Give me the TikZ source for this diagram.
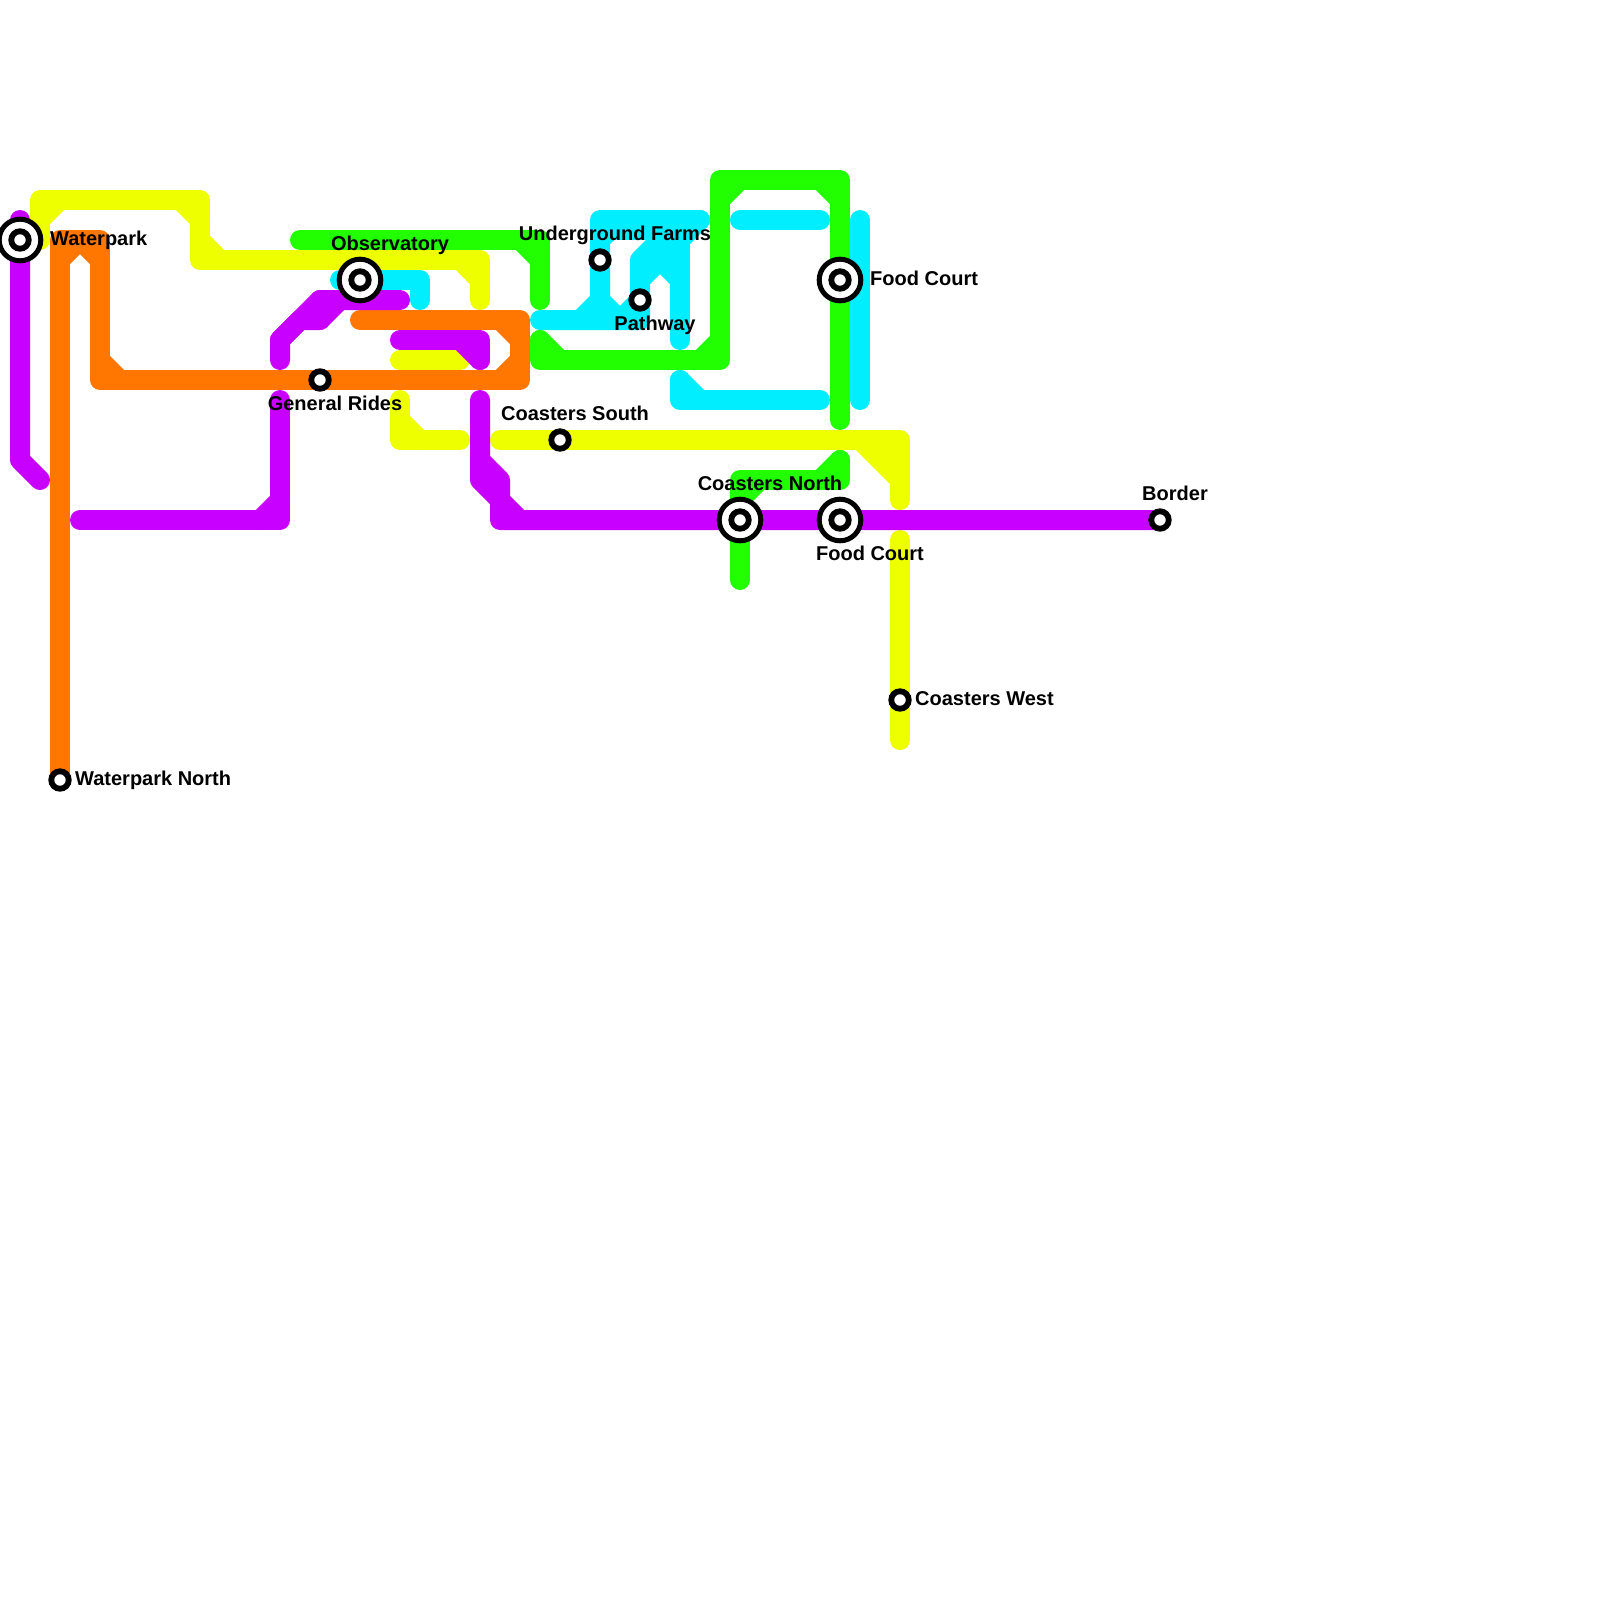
\documentclass[tikz,border=0pt]{standalone}
\usepackage{fontspec}
\setmainfont{Liberation Sans}[BoldFont={Liberation Sans Bold}]
\definecolor{lpurple}{HTML}{C800FF}
\definecolor{lorange}{HTML}{FF7700}
\definecolor{lgreen}{HTML}{22FF00}
\definecolor{lcyan}{HTML}{00EEFF}
\definecolor{lyellow}{HTML}{EEFF00}
\tikzset{
  route/.style={line width=20pt,line cap=round,line join=round},
  stnsmall/.style={circle,draw=black,fill=white,line width=5.8pt,minimum size=17.5pt,inner sep=0pt,outer sep=0pt},
  stnbig/.style={circle,draw=black,fill=white,line width=5pt,minimum size=41.6pt,inner sep=0pt,outer sep=0pt},
  lbl/.style={font=\bfseries\fontsize{20pt}{24pt}\selectfont,inner sep=0pt,text=black},
}
\begin{document}
\begin{tikzpicture}[x=1pt,y=-1pt]
\useasboundingbox (0,0) rectangle (1600,1600);
\fill[white] (0,0) rectangle (1600,1600);
% station positions
\coordinate (waterpark) at (20,240);
\coordinate (observatory) at (360,280);
\coordinate (foodN) at (840,280);
\coordinate (coastN) at (740,520);
\coordinate (foodS) at (840,520);
\coordinate (wpnorth) at (60,780);
\coordinate (genrides) at (320,380);
\coordinate (ufarms) at (600,260);
\coordinate (pathway) at (640,300);
\coordinate (coastS) at (560,440);
\coordinate (coastW) at (900,700);
\coordinate (border) at (1160,520);
% cyan
\draw[route,lcyan] (340,280) -- (420,280) -- (420,300);
\draw[route,lcyan] (540,320) -- (640,320) -- (640,260) -- (680,220);
\draw[route,lcyan] (580,320) -- (600,300) -- (600,220) -- (700,220);
\draw[route,lcyan] (600,300) -- (620,320) -- (640,300);
\draw[route,lcyan] (600,240) -- (620,220);
\draw[route,line cap=butt,lcyan] (600,230) -- (680,230);
\draw[route,lcyan] (640,280) -- (660,260) -- (680,280);
\draw[route,lcyan] (660,260) -- (660,220);
\draw[route,lcyan] (680,220) -- (680,340);
\draw[route,lcyan] (680,240) -- (700,220);
\draw[route,lcyan] (680,380) -- (680,400) -- (820,400);
\draw[route,lcyan] (680,380) -- (700,400);
\draw[route,lcyan] (740,220) -- (820,220);
\draw[route,lcyan] (860,220) -- (860,400);
% green
\draw[route,lgreen] (300,240) -- (540,240) -- (540,300);
\draw[route,lgreen] (520,240) -- (540,260);
\draw[route,lgreen] (540,340) -- (540,360) -- (720,360) -- (720,180) -- (840,180) -- (840,420);
\draw[route,lgreen] (540,340) -- (560,360);
\draw[route,lgreen] (700,360) -- (720,340);
\draw[route,lgreen] (720,200) -- (740,180);
\draw[route,lgreen] (820,180) -- (840,200);
\draw[route,lgreen] (740,580) -- (740,480) -- (840,480) -- (840,460);
\draw[route,lgreen] (820,480) -- (840,460);
\draw[route,lgreen] (740,500) -- (760,480);
% yellow
\draw[route,lyellow] (40,240) -- (40,200) -- (200,200) -- (200,260) -- (480,260) -- (480,300);
\draw[route,lyellow] (40,220) -- (60,200);
\draw[route,lyellow] (180,200) -- (200,220);
\draw[route,lyellow] (200,240) -- (220,260);
\draw[route,lyellow] (460,260) -- (480,280);
\draw[route,lyellow] (400,360) -- (460,360);
\draw[route,lyellow] (400,400) -- (400,440) -- (460,440);
\draw[route,lyellow] (400,420) -- (420,440);
\draw[route,lyellow] (500,440) -- (900,440) -- (900,500);
\draw[route,lyellow] (860,440) -- (900,480);
\draw[route,lyellow] (880,440) -- (900,460);
\draw[route,lyellow] (900,540) -- (coastW) -- (900,740);
% orange
\draw[route,lorange] (wpnorth) -- (60,240) -- (100,240) -- (100,380) -- (520,380) -- (520,320) -- (360,320);
\draw[route,lorange] (60,260) -- (80,240) -- (100,260);
\draw[route,lorange] (100,360) -- (120,380);
\draw[route,lorange] (500,380) -- (520,360);
\draw[route,lorange] (500,320) -- (520,340);
% purple
\draw[route,lpurple] (20,220) -- (20,460) -- (40,480);
\draw[route,lpurple] (80,520) -- (280,520) -- (280,400);
\draw[route,lpurple] (260,520) -- (280,500);
\draw[route,lpurple] (280,360) -- (280,340) -- (320,300) -- (400,300);
\draw[route,lpurple] (280,340) -- (300,320) -- (320,320) -- (340,300);
\draw[route,lpurple] (320,300) -- (320,320);
\draw[route,lpurple] (400,340) -- (480,340) -- (480,360);
\draw[route,lpurple] (460,340) -- (480,360);
\draw[route,lpurple] (480,400) -- (480,480) -- (500,500) -- (500,520) -- (border);
\draw[route,lpurple] (480,460) -- (500,480) -- (500,500) -- (520,520);
% stations
\node[stnbig] (sA) at (waterpark) {};
\node[stnsmall] (sA2) at (waterpark) {};
\node[stnbig] (sB) at (observatory) {};
\node[stnsmall] (sB2) at (observatory) {};
\node[stnbig] (sC) at (foodN) {};
\node[stnsmall] (sC2) at (foodN) {};
\node[stnbig] (sD) at (coastN) {};
\node[stnsmall] (sD2) at (coastN) {};
\node[stnbig] (sE) at (foodS) {};
\node[stnsmall] (sE2) at (foodS) {};
\node[stnsmall] (sF) at (wpnorth) {};
\node[stnsmall] (sG) at (genrides) {};
\node[stnsmall] (sH) at (ufarms) {};
\node[stnsmall] (sI) at (pathway) {};
\node[stnsmall] (sJ) at (coastS) {};
\node[stnsmall] (sK) at (coastW) {};
\node[stnsmall] (sL) at (border) {};
% labels
\node[lbl,anchor=mid west] (t1) at (50,242.5) {Waterpark};
\node[lbl,anchor=mid] (t2) at (390,247.5) {Observatory};
\node[lbl,anchor=mid west] (t3) at (870,282.5) {Food Court};
\node[lbl,anchor=mid] (t4) at (615,237.5) {Underground Farms};
\node[lbl,anchor=mid] (t5) at (655,327.5) {Pathway};
\node[lbl,anchor=mid] (t6) at (335,407.5) {General Rides};
\node[lbl,anchor=mid] (t7) at (575,417.5) {Coasters South};
\node[lbl,anchor=mid] (t8) at (770,487.5) {Coasters North};
\node[lbl,anchor=mid] (t9) at (870,557.5) {Food Court};
\node[lbl,anchor=mid] (t10) at (1175,497.5) {Border};
\node[lbl,anchor=mid west] (t11) at (915,702.5) {Coasters West};
\node[lbl,anchor=mid west] (t12) at (75,782.5) {Waterpark North};
\end{tikzpicture}
\end{document}
